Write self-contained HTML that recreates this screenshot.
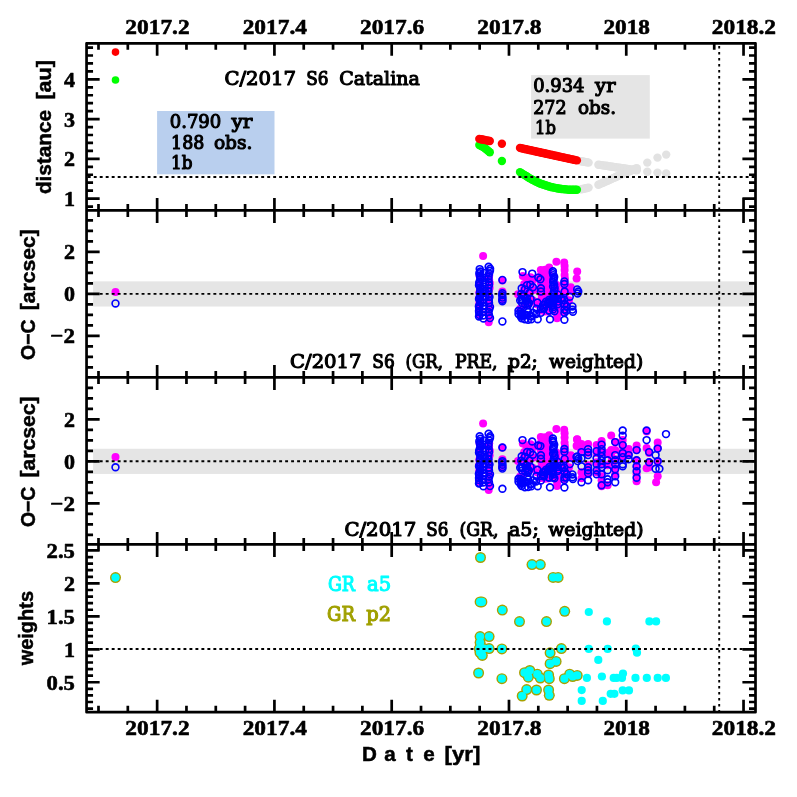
<!DOCTYPE html>
<html lang="en"><head><meta charset="utf-8"><title>C/2017 S6 Catalina</title>
<style>html,body{margin:0;padding:0;background:#fff;}svg{display:block;}.tk{font-family:"Liberation Serif",serif;font-weight:bold;font-size:22px;fill:#000;stroke:#000;stroke-width:0.6px;stroke-linejoin:round;}.ax{font-family:"Liberation Sans",sans-serif;font-weight:bold;font-size:20.6px;fill:#000;stroke:#000;stroke-width:0.5px;}.rm{font-family:"DejaVu Serif","Liberation Serif",serif;font-weight:normal;font-size:19.2px;fill:#000;stroke:#000;stroke-width:1.15px;stroke-linejoin:round;}</style></head><body>
<svg width="797" height="797" viewBox="0 0 797 797">
<rect x="0" y="0" width="797" height="797" fill="#ffffff"/>
<rect x="93.1" y="281.35" width="660.20" height="25.20" fill="#e5e5e5"/>
<rect x="93.1" y="448.75" width="660.20" height="25.20" fill="#e5e5e5"/>
<rect x="157.1" y="111.0" width="117.4" height="63.3" fill="#b9cfee"/>
<rect x="531.1" y="75.1" width="118.7" height="63.5" fill="#e5e5e5"/>
<g>
<circle cx="581.0" cy="161.3" r="4.2" fill="#e2e2e2"/>
<circle cx="582.5" cy="161.5" r="4.2" fill="#e2e2e2"/>
<circle cx="584.0" cy="161.8" r="4.2" fill="#e2e2e2"/>
<circle cx="585.6" cy="162.1" r="4.2" fill="#e2e2e2"/>
<circle cx="587.1" cy="162.3" r="4.2" fill="#e2e2e2"/>
<circle cx="588.6" cy="162.6" r="4.2" fill="#e2e2e2"/>
<circle cx="598.4" cy="164.7" r="4.2" fill="#e2e2e2"/>
<circle cx="599.9" cy="164.9" r="4.2" fill="#e2e2e2"/>
<circle cx="601.5" cy="165.1" r="4.2" fill="#e2e2e2"/>
<circle cx="603.0" cy="165.4" r="4.2" fill="#e2e2e2"/>
<circle cx="604.5" cy="165.6" r="4.2" fill="#e2e2e2"/>
<circle cx="606.1" cy="165.8" r="4.2" fill="#e2e2e2"/>
<circle cx="607.6" cy="166.0" r="4.2" fill="#e2e2e2"/>
<circle cx="609.2" cy="166.3" r="4.2" fill="#e2e2e2"/>
<circle cx="610.7" cy="166.5" r="4.2" fill="#e2e2e2"/>
<circle cx="612.2" cy="166.7" r="4.2" fill="#e2e2e2"/>
<circle cx="613.8" cy="166.9" r="4.2" fill="#e2e2e2"/>
<circle cx="615.3" cy="167.2" r="4.2" fill="#e2e2e2"/>
<circle cx="616.8" cy="167.4" r="4.2" fill="#e2e2e2"/>
<circle cx="618.4" cy="167.6" r="4.2" fill="#e2e2e2"/>
<circle cx="619.9" cy="167.8" r="4.2" fill="#e2e2e2"/>
<circle cx="621.4" cy="168.1" r="4.2" fill="#e2e2e2"/>
<circle cx="623.0" cy="168.3" r="4.2" fill="#e2e2e2"/>
<circle cx="624.5" cy="168.5" r="4.2" fill="#e2e2e2"/>
<circle cx="626.0" cy="168.7" r="4.2" fill="#e2e2e2"/>
<circle cx="627.6" cy="169.0" r="4.2" fill="#e2e2e2"/>
<circle cx="629.1" cy="169.2" r="4.2" fill="#e2e2e2"/>
<circle cx="630.7" cy="169.4" r="4.2" fill="#e2e2e2"/>
<circle cx="632.2" cy="169.6" r="4.2" fill="#e2e2e2"/>
<circle cx="633.7" cy="169.9" r="4.2" fill="#e2e2e2"/>
<circle cx="635.3" cy="170.1" r="4.2" fill="#e2e2e2"/>
<circle cx="636.8" cy="170.3" r="4.2" fill="#e2e2e2"/>
<circle cx="647.3" cy="171.7" r="4.2" fill="#e2e2e2"/>
<circle cx="657.5" cy="172.6" r="4.2" fill="#e2e2e2"/>
<circle cx="666.2" cy="173.5" r="4.2" fill="#e2e2e2"/>
<circle cx="581.0" cy="189.4" r="4.2" fill="#e2e2e2"/>
<circle cx="582.5" cy="189.0" r="4.2" fill="#e2e2e2"/>
<circle cx="584.0" cy="188.7" r="4.2" fill="#e2e2e2"/>
<circle cx="585.6" cy="188.3" r="4.2" fill="#e2e2e2"/>
<circle cx="587.1" cy="188.0" r="4.2" fill="#e2e2e2"/>
<circle cx="588.6" cy="187.6" r="4.2" fill="#e2e2e2"/>
<circle cx="598.4" cy="184.8" r="4.2" fill="#e2e2e2"/>
<circle cx="599.9" cy="184.1" r="4.2" fill="#e2e2e2"/>
<circle cx="601.5" cy="183.4" r="4.2" fill="#e2e2e2"/>
<circle cx="603.0" cy="182.7" r="4.2" fill="#e2e2e2"/>
<circle cx="604.5" cy="182.0" r="4.2" fill="#e2e2e2"/>
<circle cx="606.1" cy="181.3" r="4.2" fill="#e2e2e2"/>
<circle cx="607.6" cy="180.7" r="4.2" fill="#e2e2e2"/>
<circle cx="609.2" cy="180.0" r="4.2" fill="#e2e2e2"/>
<circle cx="610.7" cy="179.3" r="4.2" fill="#e2e2e2"/>
<circle cx="612.2" cy="178.6" r="4.2" fill="#e2e2e2"/>
<circle cx="613.8" cy="177.9" r="4.2" fill="#e2e2e2"/>
<circle cx="615.3" cy="177.2" r="4.2" fill="#e2e2e2"/>
<circle cx="616.8" cy="176.5" r="4.2" fill="#e2e2e2"/>
<circle cx="618.4" cy="175.8" r="4.2" fill="#e2e2e2"/>
<circle cx="619.9" cy="175.1" r="4.2" fill="#e2e2e2"/>
<circle cx="621.4" cy="174.5" r="4.2" fill="#e2e2e2"/>
<circle cx="623.0" cy="173.9" r="4.2" fill="#e2e2e2"/>
<circle cx="624.5" cy="173.2" r="4.2" fill="#e2e2e2"/>
<circle cx="626.0" cy="172.6" r="4.2" fill="#e2e2e2"/>
<circle cx="627.6" cy="172.0" r="4.2" fill="#e2e2e2"/>
<circle cx="629.1" cy="171.3" r="4.2" fill="#e2e2e2"/>
<circle cx="630.7" cy="170.7" r="4.2" fill="#e2e2e2"/>
<circle cx="632.2" cy="170.1" r="4.2" fill="#e2e2e2"/>
<circle cx="633.7" cy="169.5" r="4.2" fill="#e2e2e2"/>
<circle cx="635.3" cy="168.8" r="4.2" fill="#e2e2e2"/>
<circle cx="636.8" cy="168.2" r="4.2" fill="#e2e2e2"/>
<circle cx="647.3" cy="162.6" r="4.2" fill="#e2e2e2"/>
<circle cx="657.5" cy="157.6" r="4.2" fill="#e2e2e2"/>
<circle cx="666.2" cy="154.6" r="4.2" fill="#e2e2e2"/>
<circle cx="479.3" cy="145.1" r="4.2" fill="#00ff00"/>
<circle cx="480.8" cy="145.8" r="4.2" fill="#00ff00"/>
<circle cx="482.3" cy="146.6" r="4.2" fill="#00ff00"/>
<circle cx="483.8" cy="147.4" r="4.2" fill="#00ff00"/>
<circle cx="485.3" cy="148.5" r="4.2" fill="#00ff00"/>
<circle cx="486.8" cy="149.7" r="4.2" fill="#00ff00"/>
<circle cx="488.3" cy="151.0" r="4.2" fill="#00ff00"/>
<circle cx="489.8" cy="152.2" r="4.2" fill="#00ff00"/>
<circle cx="501.9" cy="161.0" r="4.2" fill="#00ff00"/>
<circle cx="520.0" cy="172.1" r="4.2" fill="#00ff00"/>
<circle cx="521.5" cy="173.1" r="4.2" fill="#00ff00"/>
<circle cx="523.1" cy="174.1" r="4.2" fill="#00ff00"/>
<circle cx="524.6" cy="175.1" r="4.2" fill="#00ff00"/>
<circle cx="526.2" cy="176.0" r="4.2" fill="#00ff00"/>
<circle cx="527.7" cy="177.0" r="4.2" fill="#00ff00"/>
<circle cx="529.2" cy="178.0" r="4.2" fill="#00ff00"/>
<circle cx="530.8" cy="178.9" r="4.2" fill="#00ff00"/>
<circle cx="532.3" cy="179.7" r="4.2" fill="#00ff00"/>
<circle cx="533.8" cy="180.4" r="4.2" fill="#00ff00"/>
<circle cx="535.4" cy="181.2" r="4.2" fill="#00ff00"/>
<circle cx="536.9" cy="182.0" r="4.2" fill="#00ff00"/>
<circle cx="538.5" cy="182.7" r="4.2" fill="#00ff00"/>
<circle cx="540.0" cy="183.5" r="4.2" fill="#00ff00"/>
<circle cx="541.5" cy="184.0" r="4.2" fill="#00ff00"/>
<circle cx="543.1" cy="184.5" r="4.2" fill="#00ff00"/>
<circle cx="544.6" cy="185.0" r="4.2" fill="#00ff00"/>
<circle cx="546.1" cy="185.5" r="4.2" fill="#00ff00"/>
<circle cx="547.7" cy="186.0" r="4.2" fill="#00ff00"/>
<circle cx="549.2" cy="186.5" r="4.2" fill="#00ff00"/>
<circle cx="550.8" cy="187.0" r="4.2" fill="#00ff00"/>
<circle cx="552.3" cy="187.3" r="4.2" fill="#00ff00"/>
<circle cx="553.8" cy="187.6" r="4.2" fill="#00ff00"/>
<circle cx="555.4" cy="187.9" r="4.2" fill="#00ff00"/>
<circle cx="556.9" cy="188.2" r="4.2" fill="#00ff00"/>
<circle cx="558.4" cy="188.5" r="4.2" fill="#00ff00"/>
<circle cx="560.0" cy="188.8" r="4.2" fill="#00ff00"/>
<circle cx="561.5" cy="189.0" r="4.2" fill="#00ff00"/>
<circle cx="563.1" cy="189.1" r="4.2" fill="#00ff00"/>
<circle cx="564.6" cy="189.3" r="4.2" fill="#00ff00"/>
<circle cx="566.1" cy="189.4" r="4.2" fill="#00ff00"/>
<circle cx="567.7" cy="189.6" r="4.2" fill="#00ff00"/>
<circle cx="569.2" cy="189.7" r="4.2" fill="#00ff00"/>
<circle cx="570.7" cy="189.8" r="4.2" fill="#00ff00"/>
<circle cx="572.3" cy="189.8" r="4.2" fill="#00ff00"/>
<circle cx="573.8" cy="189.8" r="4.2" fill="#00ff00"/>
<circle cx="575.4" cy="189.8" r="4.2" fill="#00ff00"/>
<circle cx="576.9" cy="189.8" r="4.2" fill="#00ff00"/>
<circle cx="479.3" cy="138.9" r="4.2" fill="#ff0000"/>
<circle cx="480.8" cy="139.2" r="4.2" fill="#ff0000"/>
<circle cx="482.3" cy="139.5" r="4.2" fill="#ff0000"/>
<circle cx="483.8" cy="139.8" r="4.2" fill="#ff0000"/>
<circle cx="485.3" cy="140.1" r="4.2" fill="#ff0000"/>
<circle cx="486.8" cy="140.4" r="4.2" fill="#ff0000"/>
<circle cx="488.3" cy="140.7" r="4.2" fill="#ff0000"/>
<circle cx="489.8" cy="141.0" r="4.2" fill="#ff0000"/>
<circle cx="501.9" cy="143.8" r="4.2" fill="#ff0000"/>
<circle cx="520.0" cy="147.9" r="4.2" fill="#ff0000"/>
<circle cx="521.5" cy="148.3" r="4.2" fill="#ff0000"/>
<circle cx="523.1" cy="148.6" r="4.2" fill="#ff0000"/>
<circle cx="524.6" cy="149.0" r="4.2" fill="#ff0000"/>
<circle cx="526.2" cy="149.3" r="4.2" fill="#ff0000"/>
<circle cx="527.7" cy="149.6" r="4.2" fill="#ff0000"/>
<circle cx="529.2" cy="150.0" r="4.2" fill="#ff0000"/>
<circle cx="530.8" cy="150.3" r="4.2" fill="#ff0000"/>
<circle cx="532.3" cy="150.6" r="4.2" fill="#ff0000"/>
<circle cx="533.8" cy="151.0" r="4.2" fill="#ff0000"/>
<circle cx="535.4" cy="151.3" r="4.2" fill="#ff0000"/>
<circle cx="536.9" cy="151.7" r="4.2" fill="#ff0000"/>
<circle cx="538.5" cy="152.0" r="4.2" fill="#ff0000"/>
<circle cx="540.0" cy="152.3" r="4.2" fill="#ff0000"/>
<circle cx="541.5" cy="152.7" r="4.2" fill="#ff0000"/>
<circle cx="543.1" cy="153.0" r="4.2" fill="#ff0000"/>
<circle cx="544.6" cy="153.3" r="4.2" fill="#ff0000"/>
<circle cx="546.1" cy="153.7" r="4.2" fill="#ff0000"/>
<circle cx="547.7" cy="154.0" r="4.2" fill="#ff0000"/>
<circle cx="549.2" cy="154.4" r="4.2" fill="#ff0000"/>
<circle cx="550.8" cy="154.7" r="4.2" fill="#ff0000"/>
<circle cx="552.3" cy="155.0" r="4.2" fill="#ff0000"/>
<circle cx="553.8" cy="155.4" r="4.2" fill="#ff0000"/>
<circle cx="555.4" cy="155.7" r="4.2" fill="#ff0000"/>
<circle cx="556.9" cy="156.0" r="4.2" fill="#ff0000"/>
<circle cx="558.4" cy="156.4" r="4.2" fill="#ff0000"/>
<circle cx="560.0" cy="156.7" r="4.2" fill="#ff0000"/>
<circle cx="561.5" cy="157.1" r="4.2" fill="#ff0000"/>
<circle cx="563.1" cy="157.4" r="4.2" fill="#ff0000"/>
<circle cx="564.6" cy="157.7" r="4.2" fill="#ff0000"/>
<circle cx="566.1" cy="158.1" r="4.2" fill="#ff0000"/>
<circle cx="567.7" cy="158.4" r="4.2" fill="#ff0000"/>
<circle cx="569.2" cy="158.8" r="4.2" fill="#ff0000"/>
<circle cx="570.7" cy="159.1" r="4.2" fill="#ff0000"/>
<circle cx="572.3" cy="159.4" r="4.2" fill="#ff0000"/>
<circle cx="573.8" cy="159.8" r="4.2" fill="#ff0000"/>
<circle cx="575.4" cy="160.1" r="4.2" fill="#ff0000"/>
<circle cx="576.9" cy="160.4" r="4.2" fill="#ff0000"/>
<circle cx="115.5" cy="80.0" r="3.8" fill="#00ff00"/>
<circle cx="115.5" cy="52.1" r="3.8" fill="#ff0000"/>
</g>
<g fill="#ff00ff">
<circle cx="483.1" cy="255.9" r="4.0"/>
<circle cx="479.6" cy="275.7" r="4.0"/>
<circle cx="480.0" cy="281.1" r="4.0"/>
<circle cx="479.8" cy="287.0" r="4.0"/>
<circle cx="479.3" cy="292.7" r="4.0"/>
<circle cx="479.2" cy="298.2" r="4.0"/>
<circle cx="479.3" cy="303.4" r="4.0"/>
<circle cx="479.7" cy="309.8" r="4.0"/>
<circle cx="479.3" cy="314.7" r="4.0"/>
<circle cx="489.2" cy="275.4" r="4.0"/>
<circle cx="489.1" cy="279.2" r="4.0"/>
<circle cx="489.8" cy="283.1" r="4.0"/>
<circle cx="489.6" cy="287.7" r="4.0"/>
<circle cx="488.4" cy="291.8" r="4.0"/>
<circle cx="488.7" cy="296.8" r="4.0"/>
<circle cx="488.5" cy="300.8" r="4.0"/>
<circle cx="489.2" cy="304.9" r="4.0"/>
<circle cx="489.1" cy="308.9" r="4.0"/>
<circle cx="488.3" cy="313.3" r="4.0"/>
<circle cx="489.3" cy="317.8" r="4.0"/>
<circle cx="488.7" cy="322.3" r="4.0"/>
<circle cx="502.4" cy="280.6" r="4.0"/>
<circle cx="502.4" cy="291.5" r="4.0"/>
<circle cx="502.4" cy="299.5" r="4.0"/>
<circle cx="518.0" cy="294.2" r="4.0"/>
<circle cx="556.4" cy="261.8" r="4.0"/>
<circle cx="577.2" cy="271.5" r="4.0"/>
<circle cx="576.6" cy="278.6" r="4.0"/>
<circle cx="557.0" cy="318.3" r="4.0"/>
<circle cx="570.8" cy="287.2" r="4.0"/>
<circle cx="570.8" cy="290.4" r="4.0"/>
<circle cx="564.2" cy="262.4" r="4.0"/>
<circle cx="564.6" cy="265.9" r="4.0"/>
<circle cx="564.6" cy="270.0" r="4.0"/>
<circle cx="564.6" cy="274.9" r="4.0"/>
<circle cx="564.9" cy="278.8" r="4.0"/>
<circle cx="564.4" cy="282.7" r="4.0"/>
<circle cx="564.3" cy="287.2" r="4.0"/>
<circle cx="564.6" cy="291.4" r="4.0"/>
<circle cx="564.5" cy="295.1" r="4.0"/>
<circle cx="564.8" cy="299.9" r="4.0"/>
<circle cx="564.9" cy="303.9" r="4.0"/>
<circle cx="564.9" cy="308.0" r="4.0"/>
<circle cx="564.4" cy="312.0" r="4.0"/>
<circle cx="540.8" cy="270.1" r="4.0"/>
<circle cx="540.4" cy="276.2" r="4.0"/>
<circle cx="540.7" cy="282.4" r="4.0"/>
<circle cx="541.5" cy="287.9" r="4.0"/>
<circle cx="541.5" cy="294.3" r="4.0"/>
<circle cx="541.5" cy="299.3" r="4.0"/>
<circle cx="540.7" cy="304.9" r="4.0"/>
<circle cx="540.6" cy="310.6" r="4.0"/>
<circle cx="545.1" cy="269.8" r="4.0"/>
<circle cx="545.4" cy="275.2" r="4.0"/>
<circle cx="545.2" cy="281.6" r="4.0"/>
<circle cx="544.5" cy="287.4" r="4.0"/>
<circle cx="545.5" cy="293.5" r="4.0"/>
<circle cx="545.3" cy="299.1" r="4.0"/>
<circle cx="544.6" cy="305.4" r="4.0"/>
<circle cx="544.8" cy="311.4" r="4.0"/>
<circle cx="549.2" cy="267.4" r="4.0"/>
<circle cx="548.5" cy="273.6" r="4.0"/>
<circle cx="548.9" cy="278.2" r="4.0"/>
<circle cx="548.2" cy="283.8" r="4.0"/>
<circle cx="549.1" cy="290.1" r="4.0"/>
<circle cx="548.2" cy="295.7" r="4.0"/>
<circle cx="549.2" cy="301.1" r="4.0"/>
<circle cx="548.4" cy="306.5" r="4.0"/>
<circle cx="548.2" cy="311.4" r="4.0"/>
<circle cx="522.8" cy="276.0" r="4.0"/>
<circle cx="526.2" cy="277.6" r="4.0"/>
<circle cx="530.5" cy="277.2" r="4.0"/>
<circle cx="533.5" cy="279.0" r="4.0"/>
<circle cx="533.6" cy="290.0" r="4.0"/>
<circle cx="527.8" cy="294.9" r="4.0"/>
<circle cx="526.6" cy="293.8" r="4.0"/>
<circle cx="531.7" cy="282.6" r="4.0"/>
<circle cx="524.3" cy="284.0" r="4.0"/>
<circle cx="524.1" cy="289.0" r="4.0"/>
<circle cx="524.4" cy="286.1" r="4.0"/>
<circle cx="522.7" cy="294.5" r="4.0"/>
<circle cx="525.6" cy="286.8" r="4.0"/>
<circle cx="528.6" cy="294.4" r="4.0"/>
<circle cx="526.5" cy="294.6" r="4.0"/>
<circle cx="527.5" cy="288.0" r="4.0"/>
<circle cx="547.2" cy="296.3" r="4.0"/>
<circle cx="542.9" cy="298.9" r="4.0"/>
<circle cx="520.2" cy="308.8" r="4.0"/>
<circle cx="529.0" cy="303.6" r="4.0"/>
<circle cx="557.7" cy="304.9" r="4.0"/>
<circle cx="537.0" cy="304.3" r="4.0"/>
<circle cx="548.9" cy="308.5" r="4.0"/>
<circle cx="525.5" cy="305.0" r="4.0"/>
<circle cx="532.9" cy="300.4" r="4.0"/>
<circle cx="560.2" cy="304.1" r="4.0"/>
<circle cx="549.2" cy="308.2" r="4.0"/>
<circle cx="567.4" cy="303.1" r="4.0"/>
<circle cx="551.9" cy="304.1" r="4.0"/>
<circle cx="546.6" cy="307.1" r="4.0"/>
<circle cx="543.5" cy="304.5" r="4.0"/>
<circle cx="544.9" cy="311.1" r="4.0"/>
<circle cx="556.4" cy="310.0" r="4.0"/>
<circle cx="569.0" cy="300.2" r="4.0"/>
<circle cx="549.1" cy="311.1" r="4.0"/>
<circle cx="563.7" cy="298.2" r="4.0"/>
<circle cx="556.5" cy="284.9" r="4.0"/>
<circle cx="556.5" cy="290.7" r="4.0"/>
<circle cx="556.5" cy="297.2" r="4.0"/>
<circle cx="557.3" cy="303.4" r="4.0"/>
<circle cx="556.6" cy="309.2" r="4.0"/>
<circle cx="557.2" cy="314.6" r="4.0"/>
<circle cx="115.5" cy="292.0" r="4.0"/>
</g><g fill="none" stroke="#0000ff" stroke-width="1.65">
<circle cx="479.7" cy="269.1" r="3.4"/>
<circle cx="480.3" cy="271.5" r="3.4"/>
<circle cx="479.3" cy="273.3" r="3.4"/>
<circle cx="479.8" cy="275.6" r="3.4"/>
<circle cx="480.2" cy="277.0" r="3.4"/>
<circle cx="480.7" cy="278.8" r="3.4"/>
<circle cx="479.7" cy="281.4" r="3.4"/>
<circle cx="479.2" cy="283.1" r="3.4"/>
<circle cx="479.0" cy="285.2" r="3.4"/>
<circle cx="480.3" cy="287.1" r="3.4"/>
<circle cx="480.5" cy="288.8" r="3.4"/>
<circle cx="480.2" cy="291.0" r="3.4"/>
<circle cx="479.9" cy="292.9" r="3.4"/>
<circle cx="480.4" cy="295.3" r="3.4"/>
<circle cx="479.8" cy="297.0" r="3.4"/>
<circle cx="479.0" cy="299.0" r="3.4"/>
<circle cx="480.1" cy="301.3" r="3.4"/>
<circle cx="480.4" cy="302.5" r="3.4"/>
<circle cx="479.6" cy="304.9" r="3.4"/>
<circle cx="478.9" cy="306.6" r="3.4"/>
<circle cx="479.2" cy="308.3" r="3.4"/>
<circle cx="479.0" cy="310.9" r="3.4"/>
<circle cx="479.1" cy="312.3" r="3.4"/>
<circle cx="479.6" cy="314.9" r="3.4"/>
<circle cx="479.0" cy="316.4" r="3.4"/>
<circle cx="483.3" cy="296.4" r="3.4"/>
<circle cx="483.6" cy="299.6" r="3.4"/>
<circle cx="483.1" cy="302.4" r="3.4"/>
<circle cx="483.2" cy="306.1" r="3.4"/>
<circle cx="483.8" cy="308.6" r="3.4"/>
<circle cx="483.0" cy="311.9" r="3.4"/>
<circle cx="483.0" cy="315.4" r="3.4"/>
<circle cx="483.4" cy="318.4" r="3.4"/>
<circle cx="483.8" cy="272.9" r="3.4"/>
<circle cx="484.4" cy="277.7" r="3.4"/>
<circle cx="485.3" cy="282.4" r="3.4"/>
<circle cx="484.6" cy="286.9" r="3.4"/>
<circle cx="484.9" cy="291.0" r="3.4"/>
<circle cx="485.2" cy="296.3" r="3.4"/>
<circle cx="490.0" cy="270.8" r="3.4"/>
<circle cx="489.1" cy="273.4" r="3.4"/>
<circle cx="488.5" cy="276.6" r="3.4"/>
<circle cx="488.4" cy="279.0" r="3.4"/>
<circle cx="488.7" cy="282.1" r="3.4"/>
<circle cx="489.0" cy="285.0" r="3.4"/>
<circle cx="488.3" cy="288.1" r="3.4"/>
<circle cx="488.5" cy="291.3" r="3.4"/>
<circle cx="488.4" cy="294.8" r="3.4"/>
<circle cx="489.5" cy="297.1" r="3.4"/>
<circle cx="488.8" cy="300.3" r="3.4"/>
<circle cx="489.0" cy="303.1" r="3.4"/>
<circle cx="490.0" cy="306.9" r="3.4"/>
<circle cx="489.2" cy="309.4" r="3.4"/>
<circle cx="488.5" cy="312.0" r="3.4"/>
<circle cx="489.0" cy="315.2" r="3.4"/>
<circle cx="490.0" cy="318.1" r="3.4"/>
<circle cx="488.6" cy="266.8" r="3.4"/>
<circle cx="490.1" cy="268.8" r="3.4"/>
<circle cx="502.4" cy="279.9" r="3.4"/>
<circle cx="502.4" cy="293.2" r="3.4"/>
<circle cx="502.2" cy="295.3" r="3.4"/>
<circle cx="502.5" cy="297.6" r="3.4"/>
<circle cx="502.3" cy="299.8" r="3.4"/>
<circle cx="502.4" cy="301.3" r="3.4"/>
<circle cx="502.4" cy="321.4" r="3.4"/>
<circle cx="522.5" cy="272.1" r="3.4"/>
<circle cx="532.2" cy="273.6" r="3.4"/>
<circle cx="538.3" cy="277.6" r="3.4"/>
<circle cx="540.4" cy="279.2" r="3.4"/>
<circle cx="527.1" cy="285.1" r="3.4"/>
<circle cx="530.3" cy="284.6" r="3.4"/>
<circle cx="521.7" cy="288.3" r="3.4"/>
<circle cx="524.9" cy="289.4" r="3.4"/>
<circle cx="532.9" cy="287.2" r="3.4"/>
<circle cx="540.9" cy="288.3" r="3.4"/>
<circle cx="540.9" cy="291.5" r="3.4"/>
<circle cx="518.5" cy="310.7" r="3.4"/>
<circle cx="518.5" cy="313.9" r="3.4"/>
<circle cx="521.7" cy="318.2" r="3.4"/>
<circle cx="524.9" cy="319.2" r="3.4"/>
<circle cx="528.1" cy="319.8" r="3.4"/>
<circle cx="531.3" cy="319.2" r="3.4"/>
<circle cx="537.7" cy="319.2" r="3.4"/>
<circle cx="536.1" cy="313.9" r="3.4"/>
<circle cx="540.9" cy="312.8" r="3.4"/>
<circle cx="550.0" cy="319.2" r="3.4"/>
<circle cx="564.4" cy="319.8" r="3.4"/>
<circle cx="564.4" cy="281.4" r="3.4"/>
<circle cx="564.4" cy="284.0" r="3.4"/>
<circle cx="564.6" cy="291.5" r="3.4"/>
<circle cx="564.3" cy="300.0" r="3.4"/>
<circle cx="564.5" cy="304.3" r="3.4"/>
<circle cx="564.4" cy="309.6" r="3.4"/>
<circle cx="564.4" cy="312.8" r="3.4"/>
<circle cx="572.4" cy="306.4" r="3.4"/>
<circle cx="572.4" cy="309.6" r="3.4"/>
<circle cx="572.9" cy="311.8" r="3.4"/>
<circle cx="577.2" cy="289.4" r="3.4"/>
<circle cx="578.3" cy="291.5" r="3.4"/>
<circle cx="577.6" cy="293.5" r="3.4"/>
<circle cx="531.5" cy="316.2" r="3.4"/>
<circle cx="522.9" cy="315.8" r="3.4"/>
<circle cx="525.2" cy="304.4" r="3.4"/>
<circle cx="532.9" cy="312.9" r="3.4"/>
<circle cx="522.1" cy="303.1" r="3.4"/>
<circle cx="526.7" cy="300.8" r="3.4"/>
<circle cx="522.5" cy="300.3" r="3.4"/>
<circle cx="529.4" cy="293.0" r="3.4"/>
<circle cx="527.2" cy="303.3" r="3.4"/>
<circle cx="520.2" cy="300.6" r="3.4"/>
<circle cx="528.1" cy="305.1" r="3.4"/>
<circle cx="520.8" cy="316.6" r="3.4"/>
<circle cx="530.2" cy="316.3" r="3.4"/>
<circle cx="521.4" cy="299.0" r="3.4"/>
<circle cx="520.5" cy="311.6" r="3.4"/>
<circle cx="523.5" cy="295.7" r="3.4"/>
<circle cx="525.5" cy="314.8" r="3.4"/>
<circle cx="530.6" cy="298.8" r="3.4"/>
<circle cx="521.9" cy="315.0" r="3.4"/>
<circle cx="527.4" cy="309.7" r="3.4"/>
<circle cx="521.2" cy="293.9" r="3.4"/>
<circle cx="528.9" cy="302.9" r="3.4"/>
<circle cx="520.9" cy="315.5" r="3.4"/>
<circle cx="528.2" cy="312.1" r="3.4"/>
<circle cx="521.1" cy="313.5" r="3.4"/>
<circle cx="520.9" cy="313.6" r="3.4"/>
<circle cx="525.9" cy="300.8" r="3.4"/>
<circle cx="527.2" cy="315.2" r="3.4"/>
<circle cx="523.5" cy="295.7" r="3.4"/>
<circle cx="526.8" cy="298.3" r="3.4"/>
<circle cx="552.9" cy="271.2" r="3.4"/>
<circle cx="552.8" cy="273.1" r="3.4"/>
<circle cx="553.3" cy="275.1" r="3.4"/>
<circle cx="554.2" cy="276.9" r="3.4"/>
<circle cx="553.7" cy="278.7" r="3.4"/>
<circle cx="553.4" cy="280.4" r="3.4"/>
<circle cx="553.2" cy="282.3" r="3.4"/>
<circle cx="554.2" cy="284.7" r="3.4"/>
<circle cx="553.1" cy="286.5" r="3.4"/>
<circle cx="554.6" cy="288.0" r="3.4"/>
<circle cx="554.3" cy="290.2" r="3.4"/>
<circle cx="553.7" cy="292.5" r="3.4"/>
<circle cx="553.5" cy="294.1" r="3.4"/>
<circle cx="554.1" cy="296.4" r="3.4"/>
<circle cx="553.4" cy="298.2" r="3.4"/>
<circle cx="554.1" cy="299.9" r="3.4"/>
<circle cx="553.5" cy="301.4" r="3.4"/>
<circle cx="552.8" cy="303.1" r="3.4"/>
<circle cx="552.8" cy="305.6" r="3.4"/>
<circle cx="553.2" cy="306.9" r="3.4"/>
<circle cx="552.9" cy="309.5" r="3.4"/>
<circle cx="554.4" cy="311.2" r="3.4"/>
<circle cx="549.4" cy="299.6" r="3.4"/>
<circle cx="549.5" cy="302.9" r="3.4"/>
<circle cx="547.9" cy="302.7" r="3.4"/>
<circle cx="549.2" cy="310.4" r="3.4"/>
<circle cx="557.7" cy="304.2" r="3.4"/>
<circle cx="548.9" cy="310.5" r="3.4"/>
<circle cx="549.7" cy="301.3" r="3.4"/>
<circle cx="546.0" cy="301.7" r="3.4"/>
<circle cx="551.7" cy="303.5" r="3.4"/>
<circle cx="548.4" cy="303.6" r="3.4"/>
<circle cx="557.1" cy="299.0" r="3.4"/>
<circle cx="558.2" cy="301.6" r="3.4"/>
<circle cx="557.5" cy="294.4" r="3.4"/>
<circle cx="561.0" cy="298.4" r="3.4"/>
<circle cx="564.6" cy="304.1" r="3.4"/>
<circle cx="566.8" cy="306.5" r="3.4"/>
<circle cx="566.3" cy="310.7" r="3.4"/>
<circle cx="562.1" cy="300.2" r="3.4"/>
<circle cx="569.8" cy="296.8" r="3.4"/>
<circle cx="543.2" cy="304.9" r="3.4"/>
<circle cx="536.4" cy="308.7" r="3.4"/>
<circle cx="544.9" cy="304.5" r="3.4"/>
<circle cx="543.3" cy="308.2" r="3.4"/>
<circle cx="537.4" cy="302.5" r="3.4"/>
<circle cx="541.0" cy="308.7" r="3.4"/>
<circle cx="544.0" cy="308.5" r="3.4"/>
<circle cx="115.5" cy="303.4" r="3.4"/>
</g>
<g fill="#ff00ff">
<circle cx="483.1" cy="423.5" r="4.0"/>
<circle cx="479.6" cy="443.6" r="4.0"/>
<circle cx="480.0" cy="448.8" r="4.0"/>
<circle cx="479.8" cy="454.7" r="4.0"/>
<circle cx="479.3" cy="459.8" r="4.0"/>
<circle cx="479.2" cy="465.1" r="4.0"/>
<circle cx="479.3" cy="470.5" r="4.0"/>
<circle cx="479.7" cy="477.0" r="4.0"/>
<circle cx="479.3" cy="481.7" r="4.0"/>
<circle cx="489.2" cy="443.3" r="4.0"/>
<circle cx="489.1" cy="446.7" r="4.0"/>
<circle cx="489.8" cy="450.7" r="4.0"/>
<circle cx="489.6" cy="455.3" r="4.0"/>
<circle cx="488.4" cy="459.4" r="4.0"/>
<circle cx="488.7" cy="464.2" r="4.0"/>
<circle cx="488.5" cy="467.7" r="4.0"/>
<circle cx="489.2" cy="472.7" r="4.0"/>
<circle cx="489.1" cy="476.6" r="4.0"/>
<circle cx="488.3" cy="480.8" r="4.0"/>
<circle cx="489.3" cy="485.3" r="4.0"/>
<circle cx="488.7" cy="489.9" r="4.0"/>
<circle cx="502.4" cy="447.5" r="4.0"/>
<circle cx="502.4" cy="459.2" r="4.0"/>
<circle cx="502.4" cy="466.7" r="4.0"/>
<circle cx="518.0" cy="461.1" r="4.0"/>
<circle cx="556.4" cy="429.0" r="4.0"/>
<circle cx="577.2" cy="439.2" r="4.0"/>
<circle cx="576.6" cy="445.7" r="4.0"/>
<circle cx="557.0" cy="486.0" r="4.0"/>
<circle cx="570.8" cy="455.2" r="4.0"/>
<circle cx="570.8" cy="457.8" r="4.0"/>
<circle cx="564.2" cy="429.7" r="4.0"/>
<circle cx="564.6" cy="433.3" r="4.0"/>
<circle cx="564.6" cy="437.6" r="4.0"/>
<circle cx="564.6" cy="442.7" r="4.0"/>
<circle cx="564.9" cy="446.4" r="4.0"/>
<circle cx="564.4" cy="450.3" r="4.0"/>
<circle cx="564.3" cy="454.2" r="4.0"/>
<circle cx="564.6" cy="458.4" r="4.0"/>
<circle cx="564.5" cy="462.3" r="4.0"/>
<circle cx="564.8" cy="467.6" r="4.0"/>
<circle cx="564.9" cy="471.1" r="4.0"/>
<circle cx="564.9" cy="475.6" r="4.0"/>
<circle cx="564.4" cy="478.9" r="4.0"/>
<circle cx="540.8" cy="437.1" r="4.0"/>
<circle cx="540.4" cy="443.4" r="4.0"/>
<circle cx="540.7" cy="450.1" r="4.0"/>
<circle cx="541.5" cy="455.6" r="4.0"/>
<circle cx="541.5" cy="462.0" r="4.0"/>
<circle cx="541.5" cy="466.5" r="4.0"/>
<circle cx="540.7" cy="472.4" r="4.0"/>
<circle cx="540.6" cy="478.1" r="4.0"/>
<circle cx="545.1" cy="437.2" r="4.0"/>
<circle cx="545.4" cy="442.2" r="4.0"/>
<circle cx="545.2" cy="449.5" r="4.0"/>
<circle cx="544.5" cy="454.5" r="4.0"/>
<circle cx="545.5" cy="461.5" r="4.0"/>
<circle cx="545.3" cy="467.0" r="4.0"/>
<circle cx="544.6" cy="472.3" r="4.0"/>
<circle cx="544.8" cy="478.8" r="4.0"/>
<circle cx="549.2" cy="435.2" r="4.0"/>
<circle cx="548.5" cy="441.6" r="4.0"/>
<circle cx="548.9" cy="445.6" r="4.0"/>
<circle cx="548.2" cy="450.9" r="4.0"/>
<circle cx="549.1" cy="457.2" r="4.0"/>
<circle cx="548.2" cy="463.7" r="4.0"/>
<circle cx="549.2" cy="468.2" r="4.0"/>
<circle cx="548.4" cy="474.0" r="4.0"/>
<circle cx="548.2" cy="478.4" r="4.0"/>
<circle cx="522.8" cy="443.5" r="4.0"/>
<circle cx="526.2" cy="445.6" r="4.0"/>
<circle cx="530.5" cy="444.2" r="4.0"/>
<circle cx="533.5" cy="446.8" r="4.0"/>
<circle cx="533.6" cy="457.5" r="4.0"/>
<circle cx="527.8" cy="462.8" r="4.0"/>
<circle cx="526.6" cy="461.5" r="4.0"/>
<circle cx="531.7" cy="449.7" r="4.0"/>
<circle cx="524.3" cy="451.9" r="4.0"/>
<circle cx="524.1" cy="456.4" r="4.0"/>
<circle cx="524.4" cy="453.0" r="4.0"/>
<circle cx="522.7" cy="461.3" r="4.0"/>
<circle cx="525.6" cy="454.2" r="4.0"/>
<circle cx="528.6" cy="461.8" r="4.0"/>
<circle cx="526.5" cy="461.8" r="4.0"/>
<circle cx="527.5" cy="455.1" r="4.0"/>
<circle cx="547.2" cy="463.6" r="4.0"/>
<circle cx="542.9" cy="466.2" r="4.0"/>
<circle cx="520.2" cy="476.6" r="4.0"/>
<circle cx="529.0" cy="470.4" r="4.0"/>
<circle cx="557.7" cy="472.7" r="4.0"/>
<circle cx="537.0" cy="472.2" r="4.0"/>
<circle cx="548.9" cy="475.5" r="4.0"/>
<circle cx="525.5" cy="472.9" r="4.0"/>
<circle cx="532.9" cy="468.1" r="4.0"/>
<circle cx="560.2" cy="472.1" r="4.0"/>
<circle cx="549.2" cy="475.4" r="4.0"/>
<circle cx="567.4" cy="470.4" r="4.0"/>
<circle cx="551.9" cy="471.4" r="4.0"/>
<circle cx="546.6" cy="475.1" r="4.0"/>
<circle cx="543.5" cy="472.1" r="4.0"/>
<circle cx="544.9" cy="478.3" r="4.0"/>
<circle cx="556.4" cy="477.4" r="4.0"/>
<circle cx="569.0" cy="467.3" r="4.0"/>
<circle cx="549.1" cy="478.0" r="4.0"/>
<circle cx="563.7" cy="465.2" r="4.0"/>
<circle cx="556.5" cy="452.8" r="4.0"/>
<circle cx="556.5" cy="457.9" r="4.0"/>
<circle cx="556.5" cy="465.1" r="4.0"/>
<circle cx="557.3" cy="470.5" r="4.0"/>
<circle cx="556.6" cy="476.4" r="4.0"/>
<circle cx="557.2" cy="482.1" r="4.0"/>
<circle cx="577.0" cy="439.6" r="4.0"/>
<circle cx="577.0" cy="446.1" r="4.0"/>
<circle cx="581.5" cy="444.1" r="4.0"/>
<circle cx="581.5" cy="450.1" r="4.0"/>
<circle cx="581.5" cy="472.2" r="4.0"/>
<circle cx="581.5" cy="478.2" r="4.0"/>
<circle cx="588.1" cy="444.1" r="4.0"/>
<circle cx="588.1" cy="453.1" r="4.0"/>
<circle cx="588.1" cy="465.2" r="4.0"/>
<circle cx="588.1" cy="474.2" r="4.0"/>
<circle cx="596.6" cy="445.1" r="4.0"/>
<circle cx="596.6" cy="453.1" r="4.0"/>
<circle cx="596.6" cy="462.2" r="4.0"/>
<circle cx="596.6" cy="472.2" r="4.0"/>
<circle cx="601.6" cy="441.1" r="4.0"/>
<circle cx="601.6" cy="445.1" r="4.0"/>
<circle cx="601.6" cy="453.1" r="4.0"/>
<circle cx="601.6" cy="464.2" r="4.0"/>
<circle cx="601.6" cy="476.2" r="4.0"/>
<circle cx="601.6" cy="480.2" r="4.0"/>
<circle cx="601.6" cy="486.3" r="4.0"/>
<circle cx="607.6" cy="453.1" r="4.0"/>
<circle cx="607.6" cy="465.2" r="4.0"/>
<circle cx="607.6" cy="485.3" r="4.0"/>
<circle cx="611.2" cy="435.6" r="4.0"/>
<circle cx="611.2" cy="450.1" r="4.0"/>
<circle cx="611.2" cy="456.1" r="4.0"/>
<circle cx="611.2" cy="462.2" r="4.0"/>
<circle cx="615.2" cy="442.1" r="4.0"/>
<circle cx="615.2" cy="450.1" r="4.0"/>
<circle cx="615.2" cy="459.2" r="4.0"/>
<circle cx="615.2" cy="468.2" r="4.0"/>
<circle cx="615.2" cy="474.2" r="4.0"/>
<circle cx="622.7" cy="440.1" r="4.0"/>
<circle cx="622.7" cy="446.1" r="4.0"/>
<circle cx="622.7" cy="452.1" r="4.0"/>
<circle cx="622.7" cy="458.2" r="4.0"/>
<circle cx="628.7" cy="449.1" r="4.0"/>
<circle cx="628.7" cy="454.1" r="4.0"/>
<circle cx="636.6" cy="445.6" r="4.0"/>
<circle cx="636.6" cy="450.1" r="4.0"/>
<circle cx="636.6" cy="460.2" r="4.0"/>
<circle cx="636.6" cy="467.2" r="4.0"/>
<circle cx="636.6" cy="474.2" r="4.0"/>
<circle cx="636.6" cy="481.2" r="4.0"/>
<circle cx="646.6" cy="431.5" r="4.0"/>
<circle cx="646.6" cy="448.1" r="4.0"/>
<circle cx="646.6" cy="468.2" r="4.0"/>
<circle cx="649.1" cy="453.1" r="4.0"/>
<circle cx="649.1" cy="462.2" r="4.0"/>
<circle cx="649.1" cy="467.2" r="4.0"/>
<circle cx="657.7" cy="442.6" r="4.0"/>
<circle cx="657.7" cy="448.1" r="4.0"/>
<circle cx="657.7" cy="461.2" r="4.0"/>
<circle cx="657.7" cy="476.2" r="4.0"/>
<circle cx="656.1" cy="482.2" r="4.0"/>
<circle cx="115.5" cy="457.0" r="4.0"/>
</g><g fill="none" stroke="#0000ff" stroke-width="1.65">
<circle cx="479.7" cy="436.2" r="3.4"/>
<circle cx="480.3" cy="438.8" r="3.4"/>
<circle cx="479.3" cy="441.3" r="3.4"/>
<circle cx="479.8" cy="443.5" r="3.4"/>
<circle cx="480.2" cy="444.8" r="3.4"/>
<circle cx="480.7" cy="446.4" r="3.4"/>
<circle cx="479.7" cy="449.3" r="3.4"/>
<circle cx="479.2" cy="451.0" r="3.4"/>
<circle cx="479.0" cy="452.7" r="3.4"/>
<circle cx="480.3" cy="454.8" r="3.4"/>
<circle cx="480.5" cy="455.7" r="3.4"/>
<circle cx="480.2" cy="458.8" r="3.4"/>
<circle cx="479.9" cy="460.2" r="3.4"/>
<circle cx="480.4" cy="463.1" r="3.4"/>
<circle cx="479.8" cy="464.6" r="3.4"/>
<circle cx="479.0" cy="466.2" r="3.4"/>
<circle cx="480.1" cy="468.2" r="3.4"/>
<circle cx="480.4" cy="470.5" r="3.4"/>
<circle cx="479.6" cy="471.9" r="3.4"/>
<circle cx="478.9" cy="474.0" r="3.4"/>
<circle cx="479.2" cy="475.5" r="3.4"/>
<circle cx="479.0" cy="478.1" r="3.4"/>
<circle cx="479.1" cy="480.1" r="3.4"/>
<circle cx="479.6" cy="482.9" r="3.4"/>
<circle cx="479.0" cy="483.6" r="3.4"/>
<circle cx="483.3" cy="464.0" r="3.4"/>
<circle cx="483.6" cy="466.8" r="3.4"/>
<circle cx="483.1" cy="469.9" r="3.4"/>
<circle cx="483.2" cy="473.4" r="3.4"/>
<circle cx="483.8" cy="475.6" r="3.4"/>
<circle cx="483.0" cy="478.9" r="3.4"/>
<circle cx="483.0" cy="482.5" r="3.4"/>
<circle cx="483.4" cy="486.3" r="3.4"/>
<circle cx="483.8" cy="440.4" r="3.4"/>
<circle cx="484.4" cy="444.8" r="3.4"/>
<circle cx="485.3" cy="450.3" r="3.4"/>
<circle cx="484.6" cy="455.0" r="3.4"/>
<circle cx="484.9" cy="458.3" r="3.4"/>
<circle cx="485.2" cy="463.3" r="3.4"/>
<circle cx="490.0" cy="437.9" r="3.4"/>
<circle cx="489.1" cy="440.4" r="3.4"/>
<circle cx="488.5" cy="443.9" r="3.4"/>
<circle cx="488.4" cy="446.0" r="3.4"/>
<circle cx="488.7" cy="449.3" r="3.4"/>
<circle cx="489.0" cy="452.2" r="3.4"/>
<circle cx="488.3" cy="455.6" r="3.4"/>
<circle cx="488.5" cy="459.2" r="3.4"/>
<circle cx="488.4" cy="462.6" r="3.4"/>
<circle cx="489.5" cy="464.4" r="3.4"/>
<circle cx="488.8" cy="467.6" r="3.4"/>
<circle cx="489.0" cy="470.5" r="3.4"/>
<circle cx="490.0" cy="474.2" r="3.4"/>
<circle cx="489.2" cy="476.7" r="3.4"/>
<circle cx="488.5" cy="478.9" r="3.4"/>
<circle cx="489.0" cy="482.4" r="3.4"/>
<circle cx="490.0" cy="486.1" r="3.4"/>
<circle cx="488.6" cy="433.8" r="3.4"/>
<circle cx="490.1" cy="436.3" r="3.4"/>
<circle cx="502.4" cy="447.5" r="3.4"/>
<circle cx="502.4" cy="461.1" r="3.4"/>
<circle cx="502.2" cy="462.4" r="3.4"/>
<circle cx="502.5" cy="464.8" r="3.4"/>
<circle cx="502.3" cy="466.9" r="3.4"/>
<circle cx="502.4" cy="468.6" r="3.4"/>
<circle cx="502.4" cy="488.8" r="3.4"/>
<circle cx="522.5" cy="440.1" r="3.4"/>
<circle cx="532.2" cy="441.5" r="3.4"/>
<circle cx="538.3" cy="445.5" r="3.4"/>
<circle cx="540.4" cy="446.1" r="3.4"/>
<circle cx="527.1" cy="452.0" r="3.4"/>
<circle cx="530.3" cy="452.3" r="3.4"/>
<circle cx="521.7" cy="456.2" r="3.4"/>
<circle cx="524.9" cy="456.8" r="3.4"/>
<circle cx="532.9" cy="454.8" r="3.4"/>
<circle cx="540.9" cy="455.2" r="3.4"/>
<circle cx="540.9" cy="458.8" r="3.4"/>
<circle cx="518.5" cy="478.7" r="3.4"/>
<circle cx="518.5" cy="481.7" r="3.4"/>
<circle cx="521.7" cy="486.1" r="3.4"/>
<circle cx="524.9" cy="487.2" r="3.4"/>
<circle cx="528.1" cy="486.9" r="3.4"/>
<circle cx="531.3" cy="486.2" r="3.4"/>
<circle cx="537.7" cy="486.2" r="3.4"/>
<circle cx="536.1" cy="481.4" r="3.4"/>
<circle cx="540.9" cy="480.5" r="3.4"/>
<circle cx="550.0" cy="487.2" r="3.4"/>
<circle cx="564.4" cy="487.5" r="3.4"/>
<circle cx="564.4" cy="449.0" r="3.4"/>
<circle cx="564.4" cy="451.8" r="3.4"/>
<circle cx="564.6" cy="458.9" r="3.4"/>
<circle cx="564.3" cy="467.5" r="3.4"/>
<circle cx="564.5" cy="471.2" r="3.4"/>
<circle cx="564.4" cy="477.4" r="3.4"/>
<circle cx="564.4" cy="479.9" r="3.4"/>
<circle cx="572.4" cy="474.4" r="3.4"/>
<circle cx="572.4" cy="477.2" r="3.4"/>
<circle cx="572.9" cy="479.0" r="3.4"/>
<circle cx="577.2" cy="456.4" r="3.4"/>
<circle cx="578.3" cy="458.7" r="3.4"/>
<circle cx="577.6" cy="461.1" r="3.4"/>
<circle cx="531.5" cy="483.9" r="3.4"/>
<circle cx="522.9" cy="482.8" r="3.4"/>
<circle cx="525.2" cy="471.4" r="3.4"/>
<circle cx="532.9" cy="480.4" r="3.4"/>
<circle cx="522.1" cy="470.6" r="3.4"/>
<circle cx="526.7" cy="468.1" r="3.4"/>
<circle cx="522.5" cy="467.4" r="3.4"/>
<circle cx="529.4" cy="460.5" r="3.4"/>
<circle cx="527.2" cy="470.2" r="3.4"/>
<circle cx="520.2" cy="467.8" r="3.4"/>
<circle cx="528.1" cy="472.5" r="3.4"/>
<circle cx="520.8" cy="484.6" r="3.4"/>
<circle cx="530.2" cy="483.9" r="3.4"/>
<circle cx="521.4" cy="466.9" r="3.4"/>
<circle cx="520.5" cy="479.0" r="3.4"/>
<circle cx="523.5" cy="462.8" r="3.4"/>
<circle cx="525.5" cy="482.0" r="3.4"/>
<circle cx="530.6" cy="466.8" r="3.4"/>
<circle cx="521.9" cy="482.7" r="3.4"/>
<circle cx="527.4" cy="476.9" r="3.4"/>
<circle cx="521.2" cy="460.8" r="3.4"/>
<circle cx="528.9" cy="470.4" r="3.4"/>
<circle cx="520.9" cy="483.1" r="3.4"/>
<circle cx="528.2" cy="479.5" r="3.4"/>
<circle cx="521.1" cy="480.6" r="3.4"/>
<circle cx="520.9" cy="481.3" r="3.4"/>
<circle cx="525.9" cy="468.8" r="3.4"/>
<circle cx="527.2" cy="482.3" r="3.4"/>
<circle cx="523.5" cy="462.6" r="3.4"/>
<circle cx="526.8" cy="465.6" r="3.4"/>
<circle cx="552.9" cy="438.5" r="3.4"/>
<circle cx="552.8" cy="440.8" r="3.4"/>
<circle cx="553.3" cy="442.2" r="3.4"/>
<circle cx="554.2" cy="444.7" r="3.4"/>
<circle cx="553.7" cy="446.4" r="3.4"/>
<circle cx="553.4" cy="447.9" r="3.4"/>
<circle cx="553.2" cy="449.4" r="3.4"/>
<circle cx="554.2" cy="452.7" r="3.4"/>
<circle cx="553.1" cy="453.7" r="3.4"/>
<circle cx="554.6" cy="455.9" r="3.4"/>
<circle cx="554.3" cy="457.4" r="3.4"/>
<circle cx="553.7" cy="459.6" r="3.4"/>
<circle cx="553.5" cy="461.8" r="3.4"/>
<circle cx="554.1" cy="463.6" r="3.4"/>
<circle cx="553.4" cy="466.2" r="3.4"/>
<circle cx="554.1" cy="467.3" r="3.4"/>
<circle cx="553.5" cy="468.5" r="3.4"/>
<circle cx="552.8" cy="470.2" r="3.4"/>
<circle cx="552.8" cy="472.9" r="3.4"/>
<circle cx="553.2" cy="474.5" r="3.4"/>
<circle cx="552.9" cy="477.4" r="3.4"/>
<circle cx="554.4" cy="478.2" r="3.4"/>
<circle cx="549.4" cy="467.0" r="3.4"/>
<circle cx="549.5" cy="470.0" r="3.4"/>
<circle cx="547.9" cy="470.7" r="3.4"/>
<circle cx="549.2" cy="477.4" r="3.4"/>
<circle cx="557.7" cy="471.1" r="3.4"/>
<circle cx="548.9" cy="477.4" r="3.4"/>
<circle cx="549.7" cy="468.7" r="3.4"/>
<circle cx="546.0" cy="469.7" r="3.4"/>
<circle cx="551.7" cy="471.5" r="3.4"/>
<circle cx="548.4" cy="471.3" r="3.4"/>
<circle cx="557.1" cy="467.1" r="3.4"/>
<circle cx="558.2" cy="469.6" r="3.4"/>
<circle cx="557.5" cy="461.7" r="3.4"/>
<circle cx="561.0" cy="465.5" r="3.4"/>
<circle cx="564.6" cy="472.0" r="3.4"/>
<circle cx="566.8" cy="474.2" r="3.4"/>
<circle cx="566.3" cy="477.6" r="3.4"/>
<circle cx="562.1" cy="467.8" r="3.4"/>
<circle cx="569.8" cy="464.1" r="3.4"/>
<circle cx="543.2" cy="472.2" r="3.4"/>
<circle cx="536.4" cy="476.0" r="3.4"/>
<circle cx="544.9" cy="471.6" r="3.4"/>
<circle cx="543.3" cy="475.1" r="3.4"/>
<circle cx="537.4" cy="469.7" r="3.4"/>
<circle cx="541.0" cy="476.0" r="3.4"/>
<circle cx="544.0" cy="476.5" r="3.4"/>
<circle cx="576.5" cy="457.1" r="3.4"/>
<circle cx="581.5" cy="452.1" r="3.4"/>
<circle cx="581.5" cy="458.2" r="3.4"/>
<circle cx="581.5" cy="466.2" r="3.4"/>
<circle cx="581.5" cy="482.2" r="3.4"/>
<circle cx="588.1" cy="449.1" r="3.4"/>
<circle cx="588.1" cy="452.1" r="3.4"/>
<circle cx="588.1" cy="455.1" r="3.4"/>
<circle cx="588.1" cy="467.2" r="3.4"/>
<circle cx="588.1" cy="470.2" r="3.4"/>
<circle cx="588.1" cy="473.2" r="3.4"/>
<circle cx="588.1" cy="480.2" r="3.4"/>
<circle cx="596.6" cy="451.1" r="3.4"/>
<circle cx="596.6" cy="458.2" r="3.4"/>
<circle cx="596.6" cy="464.2" r="3.4"/>
<circle cx="596.6" cy="470.2" r="3.4"/>
<circle cx="596.6" cy="474.2" r="3.4"/>
<circle cx="601.6" cy="444.6" r="3.4"/>
<circle cx="601.6" cy="449.1" r="3.4"/>
<circle cx="601.6" cy="452.1" r="3.4"/>
<circle cx="601.6" cy="456.1" r="3.4"/>
<circle cx="601.6" cy="460.2" r="3.4"/>
<circle cx="601.6" cy="464.2" r="3.4"/>
<circle cx="601.6" cy="467.2" r="3.4"/>
<circle cx="601.6" cy="474.2" r="3.4"/>
<circle cx="601.6" cy="485.3" r="3.4"/>
<circle cx="607.6" cy="460.2" r="3.4"/>
<circle cx="607.6" cy="470.2" r="3.4"/>
<circle cx="607.6" cy="479.2" r="3.4"/>
<circle cx="607.6" cy="482.2" r="3.4"/>
<circle cx="615.2" cy="442.1" r="3.4"/>
<circle cx="615.2" cy="455.1" r="3.4"/>
<circle cx="615.2" cy="460.2" r="3.4"/>
<circle cx="615.2" cy="464.2" r="3.4"/>
<circle cx="615.2" cy="469.2" r="3.4"/>
<circle cx="615.2" cy="476.2" r="3.4"/>
<circle cx="615.2" cy="482.2" r="3.4"/>
<circle cx="622.7" cy="430.5" r="3.4"/>
<circle cx="622.7" cy="435.6" r="3.4"/>
<circle cx="622.7" cy="445.1" r="3.4"/>
<circle cx="622.7" cy="453.1" r="3.4"/>
<circle cx="622.7" cy="457.1" r="3.4"/>
<circle cx="622.7" cy="464.2" r="3.4"/>
<circle cx="622.7" cy="466.2" r="3.4"/>
<circle cx="628.7" cy="455.1" r="3.4"/>
<circle cx="628.7" cy="459.2" r="3.4"/>
<circle cx="636.6" cy="450.1" r="3.4"/>
<circle cx="636.6" cy="460.2" r="3.4"/>
<circle cx="636.6" cy="466.2" r="3.4"/>
<circle cx="636.6" cy="471.2" r="3.4"/>
<circle cx="636.6" cy="477.7" r="3.4"/>
<circle cx="646.6" cy="430.5" r="3.4"/>
<circle cx="646.6" cy="440.1" r="3.4"/>
<circle cx="649.1" cy="452.1" r="3.4"/>
<circle cx="649.1" cy="462.2" r="3.4"/>
<circle cx="657.7" cy="448.6" r="3.4"/>
<circle cx="657.7" cy="461.2" r="3.4"/>
<circle cx="655.6" cy="455.1" r="3.4"/>
<circle cx="655.6" cy="468.7" r="3.4"/>
<circle cx="659.4" cy="468.7" r="3.4"/>
<circle cx="666.0" cy="434.1" r="3.4"/>
<circle cx="115.5" cy="467.3" r="3.4"/>
</g>
<g>
<circle cx="480.5" cy="557.5" r="5.5" fill="#a8a000"/>
<circle cx="532.0" cy="564.6" r="5.5" fill="#a8a000"/>
<circle cx="540.3" cy="564.6" r="5.5" fill="#a8a000"/>
<circle cx="553.1" cy="577.4" r="5.5" fill="#a8a000"/>
<circle cx="558.1" cy="577.4" r="5.5" fill="#a8a000"/>
<circle cx="480.1" cy="601.9" r="5.5" fill="#a8a000"/>
<circle cx="481.9" cy="601.9" r="5.5" fill="#a8a000"/>
<circle cx="502.3" cy="610.1" r="5.5" fill="#a8a000"/>
<circle cx="564.7" cy="611.3" r="5.5" fill="#a8a000"/>
<circle cx="519.5" cy="621.6" r="5.5" fill="#a8a000"/>
<circle cx="546.5" cy="621.6" r="5.5" fill="#a8a000"/>
<circle cx="480.1" cy="636.6" r="5.5" fill="#a8a000"/>
<circle cx="489.1" cy="636.6" r="5.5" fill="#a8a000"/>
<circle cx="480.1" cy="642.6" r="5.5" fill="#a8a000"/>
<circle cx="479.3" cy="648.6" r="5.5" fill="#a8a000"/>
<circle cx="483.8" cy="648.6" r="5.5" fill="#a8a000"/>
<circle cx="489.1" cy="648.6" r="5.5" fill="#a8a000"/>
<circle cx="501.9" cy="648.9" r="5.5" fill="#a8a000"/>
<circle cx="482.3" cy="655.4" r="5.5" fill="#a8a000"/>
<circle cx="480.0" cy="652.5" r="5.5" fill="#a8a000"/>
<circle cx="478.6" cy="673.0" r="5.5" fill="#a8a000"/>
<circle cx="501.9" cy="678.7" r="5.5" fill="#a8a000"/>
<circle cx="561.4" cy="648.6" r="5.5" fill="#a8a000"/>
<circle cx="550.1" cy="652.8" r="5.5" fill="#a8a000"/>
<circle cx="550.1" cy="663.7" r="5.5" fill="#a8a000"/>
<circle cx="556.1" cy="661.4" r="5.5" fill="#a8a000"/>
<circle cx="524.5" cy="672.7" r="5.5" fill="#a8a000"/>
<circle cx="529.8" cy="670.5" r="5.5" fill="#a8a000"/>
<circle cx="528.3" cy="677.2" r="5.5" fill="#a8a000"/>
<circle cx="537.3" cy="674.2" r="5.5" fill="#a8a000"/>
<circle cx="540.3" cy="678.0" r="5.5" fill="#a8a000"/>
<circle cx="548.6" cy="675.0" r="5.5" fill="#a8a000"/>
<circle cx="549.3" cy="678.7" r="5.5" fill="#a8a000"/>
<circle cx="564.4" cy="678.7" r="5.5" fill="#a8a000"/>
<circle cx="569.7" cy="674.2" r="5.5" fill="#a8a000"/>
<circle cx="572.7" cy="676.5" r="5.5" fill="#a8a000"/>
<circle cx="577.2" cy="675.4" r="5.5" fill="#a8a000"/>
<circle cx="526.7" cy="689.6" r="5.5" fill="#a8a000"/>
<circle cx="536.5" cy="690.0" r="5.5" fill="#a8a000"/>
<circle cx="522.2" cy="696.0" r="5.5" fill="#a8a000"/>
<circle cx="548.6" cy="690.0" r="5.5" fill="#a8a000"/>
<circle cx="549.3" cy="695.3" r="5.5" fill="#a8a000"/>
<circle cx="115.5" cy="577.6" r="5.5" fill="#a8a000"/>
<circle cx="480.5" cy="557.5" r="4.1" fill="#00ffff"/>
<circle cx="532.0" cy="564.6" r="4.1" fill="#00ffff"/>
<circle cx="540.3" cy="564.6" r="4.1" fill="#00ffff"/>
<circle cx="553.1" cy="577.4" r="4.1" fill="#00ffff"/>
<circle cx="558.1" cy="577.4" r="4.1" fill="#00ffff"/>
<circle cx="480.1" cy="601.9" r="4.1" fill="#00ffff"/>
<circle cx="481.9" cy="601.9" r="4.1" fill="#00ffff"/>
<circle cx="502.3" cy="610.1" r="4.1" fill="#00ffff"/>
<circle cx="564.7" cy="611.3" r="4.1" fill="#00ffff"/>
<circle cx="519.5" cy="621.6" r="4.1" fill="#00ffff"/>
<circle cx="546.5" cy="621.6" r="4.1" fill="#00ffff"/>
<circle cx="480.1" cy="636.6" r="4.1" fill="#00ffff"/>
<circle cx="489.1" cy="636.6" r="4.1" fill="#00ffff"/>
<circle cx="480.1" cy="642.6" r="4.1" fill="#00ffff"/>
<circle cx="479.3" cy="648.6" r="4.1" fill="#00ffff"/>
<circle cx="483.8" cy="648.6" r="4.1" fill="#00ffff"/>
<circle cx="489.1" cy="648.6" r="4.1" fill="#00ffff"/>
<circle cx="501.9" cy="648.9" r="4.1" fill="#00ffff"/>
<circle cx="482.3" cy="655.4" r="4.1" fill="#00ffff"/>
<circle cx="480.0" cy="652.5" r="4.1" fill="#00ffff"/>
<circle cx="478.6" cy="673.0" r="4.1" fill="#00ffff"/>
<circle cx="501.9" cy="678.7" r="4.1" fill="#00ffff"/>
<circle cx="561.4" cy="648.6" r="4.1" fill="#00ffff"/>
<circle cx="550.1" cy="652.8" r="4.1" fill="#00ffff"/>
<circle cx="550.1" cy="663.7" r="4.1" fill="#00ffff"/>
<circle cx="556.1" cy="661.4" r="4.1" fill="#00ffff"/>
<circle cx="524.5" cy="672.7" r="4.1" fill="#00ffff"/>
<circle cx="529.8" cy="670.5" r="4.1" fill="#00ffff"/>
<circle cx="528.3" cy="677.2" r="4.1" fill="#00ffff"/>
<circle cx="537.3" cy="674.2" r="4.1" fill="#00ffff"/>
<circle cx="540.3" cy="678.0" r="4.1" fill="#00ffff"/>
<circle cx="548.6" cy="675.0" r="4.1" fill="#00ffff"/>
<circle cx="549.3" cy="678.7" r="4.1" fill="#00ffff"/>
<circle cx="564.4" cy="678.7" r="4.1" fill="#00ffff"/>
<circle cx="569.7" cy="674.2" r="4.1" fill="#00ffff"/>
<circle cx="572.7" cy="676.5" r="4.1" fill="#00ffff"/>
<circle cx="577.2" cy="675.4" r="4.1" fill="#00ffff"/>
<circle cx="526.7" cy="689.6" r="4.1" fill="#00ffff"/>
<circle cx="536.5" cy="690.0" r="4.1" fill="#00ffff"/>
<circle cx="522.2" cy="696.0" r="4.1" fill="#00ffff"/>
<circle cx="548.6" cy="690.0" r="4.1" fill="#00ffff"/>
<circle cx="549.3" cy="695.3" r="4.1" fill="#00ffff"/>
<circle cx="588.8" cy="612.0" r="4.1" fill="#00ffff"/>
<circle cx="606.9" cy="621.4" r="4.1" fill="#00ffff"/>
<circle cx="649.4" cy="621.4" r="4.1" fill="#00ffff"/>
<circle cx="656.1" cy="621.4" r="4.1" fill="#00ffff"/>
<circle cx="588.8" cy="648.9" r="4.1" fill="#00ffff"/>
<circle cx="607.7" cy="648.9" r="4.1" fill="#00ffff"/>
<circle cx="635.8" cy="648.5" r="4.1" fill="#00ffff"/>
<circle cx="637.0" cy="652.7" r="4.1" fill="#00ffff"/>
<circle cx="598.3" cy="659.9" r="4.1" fill="#00ffff"/>
<circle cx="586.9" cy="677.9" r="4.1" fill="#00ffff"/>
<circle cx="601.9" cy="676.5" r="4.1" fill="#00ffff"/>
<circle cx="613.7" cy="677.9" r="4.1" fill="#00ffff"/>
<circle cx="616.7" cy="677.9" r="4.1" fill="#00ffff"/>
<circle cx="622.0" cy="677.9" r="4.1" fill="#00ffff"/>
<circle cx="623.0" cy="673.5" r="4.1" fill="#00ffff"/>
<circle cx="635.5" cy="677.9" r="4.1" fill="#00ffff"/>
<circle cx="646.8" cy="677.9" r="4.1" fill="#00ffff"/>
<circle cx="657.7" cy="677.9" r="4.1" fill="#00ffff"/>
<circle cx="665.9" cy="677.9" r="4.1" fill="#00ffff"/>
<circle cx="581.7" cy="690.1" r="4.1" fill="#00ffff"/>
<circle cx="581.7" cy="700.9" r="4.1" fill="#00ffff"/>
<circle cx="602.8" cy="700.9" r="4.1" fill="#00ffff"/>
<circle cx="610.7" cy="693.8" r="4.1" fill="#00ffff"/>
<circle cx="614.4" cy="693.8" r="4.1" fill="#00ffff"/>
<circle cx="622.7" cy="690.4" r="4.1" fill="#00ffff"/>
<circle cx="629.0" cy="690.4" r="4.1" fill="#00ffff"/>
<circle cx="115.5" cy="577.6" r="4.1" fill="#00ffff"/>
</g>
<line x1="86.55" y1="177.05" x2="755.50" y2="177.05" stroke="#000" stroke-width="1.9" stroke-dasharray="2.9 3.081" stroke-dashoffset="4.75"/>
<line x1="86.55" y1="293.85" x2="755.50" y2="293.85" stroke="#000" stroke-width="1.9" stroke-dasharray="2.9 3.081" stroke-dashoffset="4.75"/>
<line x1="86.55" y1="461.30" x2="755.50" y2="461.30" stroke="#000" stroke-width="1.9" stroke-dasharray="2.9 3.081" stroke-dashoffset="4.75"/>
<line x1="86.55" y1="649.00" x2="755.50" y2="649.00" stroke="#000" stroke-width="1.9" stroke-dasharray="2.9 3.081" stroke-dashoffset="4.75"/>
<line x1="719.20" y1="43.30" x2="719.20" y2="712.15" stroke="#000" stroke-width="1.9" stroke-dasharray="2.5 3.481" stroke-dashoffset="3.28"/>
<g stroke="#000" stroke-width="2.7" stroke-linecap="butt" fill="none">
<rect x="86.55" y="43.3" width="668.95" height="668.85" stroke-linejoin="round"/>
<line x1="86.55" y1="210.4" x2="755.5" y2="210.4"/>
<line x1="86.55" y1="377.4" x2="755.5" y2="377.4"/>
<line x1="86.55" y1="544.4" x2="755.5" y2="544.4"/>
<path d="M98.50 43.30V49.80M98.50 203.90V216.90M98.50 370.90V383.90M98.50 537.90V550.90M98.50 705.65V712.15M127.82 43.30V49.80M127.82 203.90V216.90M127.82 370.90V383.90M127.82 537.90V550.90M127.82 705.65V712.15M157.14 43.30V55.80M157.14 197.90V222.90M157.14 364.90V389.90M157.14 531.90V556.90M157.14 699.65V712.15M186.46 43.30V49.80M186.46 203.90V216.90M186.46 370.90V383.90M186.46 537.90V550.90M186.46 705.65V712.15M215.78 43.30V49.80M215.78 203.90V216.90M215.78 370.90V383.90M215.78 537.90V550.90M215.78 705.65V712.15M245.10 43.30V49.80M245.10 203.90V216.90M245.10 370.90V383.90M245.10 537.90V550.90M245.10 705.65V712.15M274.42 43.30V55.80M274.42 197.90V222.90M274.42 364.90V389.90M274.42 531.90V556.90M274.42 699.65V712.15M303.74 43.30V49.80M303.74 203.90V216.90M303.74 370.90V383.90M303.74 537.90V550.90M303.74 705.65V712.15M333.06 43.30V49.80M333.06 203.90V216.90M333.06 370.90V383.90M333.06 537.90V550.90M333.06 705.65V712.15M362.38 43.30V49.80M362.38 203.90V216.90M362.38 370.90V383.90M362.38 537.90V550.90M362.38 705.65V712.15M391.70 43.30V55.80M391.70 197.90V222.90M391.70 364.90V389.90M391.70 531.90V556.90M391.70 699.65V712.15M421.02 43.30V49.80M421.02 203.90V216.90M421.02 370.90V383.90M421.02 537.90V550.90M421.02 705.65V712.15M450.34 43.30V49.80M450.34 203.90V216.90M450.34 370.90V383.90M450.34 537.90V550.90M450.34 705.65V712.15M479.66 43.30V49.80M479.66 203.90V216.90M479.66 370.90V383.90M479.66 537.90V550.90M479.66 705.65V712.15M508.98 43.30V55.80M508.98 197.90V222.90M508.98 364.90V389.90M508.98 531.90V556.90M508.98 699.65V712.15M538.30 43.30V49.80M538.30 203.90V216.90M538.30 370.90V383.90M538.30 537.90V550.90M538.30 705.65V712.15M567.62 43.30V49.80M567.62 203.90V216.90M567.62 370.90V383.90M567.62 537.90V550.90M567.62 705.65V712.15M596.94 43.30V49.80M596.94 203.90V216.90M596.94 370.90V383.90M596.94 537.90V550.90M596.94 705.65V712.15M626.26 43.30V55.80M626.26 197.90V222.90M626.26 364.90V389.90M626.26 531.90V556.90M626.26 699.65V712.15M655.58 43.30V49.80M655.58 203.90V216.90M655.58 370.90V383.90M655.58 537.90V550.90M655.58 705.65V712.15M684.90 43.30V49.80M684.90 203.90V216.90M684.90 370.90V383.90M684.90 537.90V550.90M684.90 705.65V712.15M714.22 43.30V49.80M714.22 203.90V216.90M714.22 370.90V383.90M714.22 537.90V550.90M714.22 705.65V712.15M743.54 43.30V55.80M743.54 197.90V222.90M743.54 364.90V389.90M743.54 531.90V556.90M743.54 699.65V712.15M86.55 206.55h6.5M755.50 206.55h-6.5M86.55 198.60h13.1M755.50 198.60h-13.1M86.55 190.65h6.5M755.50 190.65h-6.5M86.55 182.70h6.5M755.50 182.70h-6.5M86.55 174.75h6.5M755.50 174.75h-6.5M86.55 166.80h6.5M755.50 166.80h-6.5M86.55 158.85h13.1M755.50 158.85h-13.1M86.55 150.90h6.5M755.50 150.90h-6.5M86.55 142.95h6.5M755.50 142.95h-6.5M86.55 135.00h6.5M755.50 135.00h-6.5M86.55 127.05h6.5M755.50 127.05h-6.5M86.55 119.10h13.1M755.50 119.10h-13.1M86.55 111.15h6.5M755.50 111.15h-6.5M86.55 103.20h6.5M755.50 103.20h-6.5M86.55 95.25h6.5M755.50 95.25h-6.5M86.55 87.30h6.5M755.50 87.30h-6.5M86.55 79.35h13.1M755.50 79.35h-13.1M86.55 71.40h6.5M755.50 71.40h-6.5M86.55 63.45h6.5M755.50 63.45h-6.5M86.55 55.50h6.5M755.50 55.50h-6.5M86.55 47.55h6.5M755.50 47.55h-6.5M86.55 367.45h6.5M755.50 367.45h-6.5M86.55 356.95h6.5M755.50 356.95h-6.5M86.55 346.45h6.5M755.50 346.45h-6.5M86.55 335.95h13.1M755.50 335.95h-13.1M86.55 325.45h6.5M755.50 325.45h-6.5M86.55 314.95h6.5M755.50 314.95h-6.5M86.55 304.45h6.5M755.50 304.45h-6.5M86.55 293.95h13.1M755.50 293.95h-13.1M86.55 283.45h6.5M755.50 283.45h-6.5M86.55 272.95h6.5M755.50 272.95h-6.5M86.55 262.45h6.5M755.50 262.45h-6.5M86.55 251.95h13.1M755.50 251.95h-13.1M86.55 241.45h6.5M755.50 241.45h-6.5M86.55 230.95h6.5M755.50 230.95h-6.5M86.55 220.45h6.5M755.50 220.45h-6.5M86.55 534.85h6.5M755.50 534.85h-6.5M86.55 524.35h6.5M755.50 524.35h-6.5M86.55 513.85h6.5M755.50 513.85h-6.5M86.55 503.35h13.1M755.50 503.35h-13.1M86.55 492.85h6.5M755.50 492.85h-6.5M86.55 482.35h6.5M755.50 482.35h-6.5M86.55 471.85h6.5M755.50 471.85h-6.5M86.55 461.35h13.1M755.50 461.35h-13.1M86.55 450.85h6.5M755.50 450.85h-6.5M86.55 440.35h6.5M755.50 440.35h-6.5M86.55 429.85h6.5M755.50 429.85h-6.5M86.55 419.35h13.1M755.50 419.35h-13.1M86.55 408.85h6.5M755.50 408.85h-6.5M86.55 398.35h6.5M755.50 398.35h-6.5M86.55 387.85h6.5M755.50 387.85h-6.5M86.55 708.61h6.5M755.50 708.61h-6.5M86.55 702.02h6.5M755.50 702.02h-6.5M86.55 695.43h6.5M755.50 695.43h-6.5M86.55 688.84h6.5M755.50 688.84h-6.5M86.55 682.25h13.1M755.50 682.25h-13.1M86.55 675.66h6.5M755.50 675.66h-6.5M86.55 669.07h6.5M755.50 669.07h-6.5M86.55 662.48h6.5M755.50 662.48h-6.5M86.55 655.89h6.5M755.50 655.89h-6.5M86.55 649.30h13.1M755.50 649.30h-13.1M86.55 642.71h6.5M755.50 642.71h-6.5M86.55 636.12h6.5M755.50 636.12h-6.5M86.55 629.53h6.5M755.50 629.53h-6.5M86.55 622.94h6.5M755.50 622.94h-6.5M86.55 616.35h13.1M755.50 616.35h-13.1M86.55 609.76h6.5M755.50 609.76h-6.5M86.55 603.17h6.5M755.50 603.17h-6.5M86.55 596.58h6.5M755.50 596.58h-6.5M86.55 589.99h6.5M755.50 589.99h-6.5M86.55 583.40h13.1M755.50 583.40h-13.1M86.55 576.81h6.5M755.50 576.81h-6.5M86.55 570.22h6.5M755.50 570.22h-6.5M86.55 563.63h6.5M755.50 563.63h-6.5M86.55 557.04h6.5M755.50 557.04h-6.5M86.55 550.45h13.1M755.50 550.45h-13.1"/>
</g>
<text class="tk" x="157.5" y="33.7" text-anchor="middle" textLength="64.3" lengthAdjust="spacingAndGlyphs">2017.2</text>
<text class="tk" x="157.5" y="735.0" text-anchor="middle" textLength="64.3" lengthAdjust="spacingAndGlyphs">2017.2</text>
<text class="tk" x="274.8" y="33.7" text-anchor="middle" textLength="64.3" lengthAdjust="spacingAndGlyphs">2017.4</text>
<text class="tk" x="274.8" y="735.0" text-anchor="middle" textLength="64.3" lengthAdjust="spacingAndGlyphs">2017.4</text>
<text class="tk" x="392.1" y="33.7" text-anchor="middle" textLength="64.3" lengthAdjust="spacingAndGlyphs">2017.6</text>
<text class="tk" x="392.1" y="735.0" text-anchor="middle" textLength="64.3" lengthAdjust="spacingAndGlyphs">2017.6</text>
<text class="tk" x="509.4" y="33.7" text-anchor="middle" textLength="64.3" lengthAdjust="spacingAndGlyphs">2017.8</text>
<text class="tk" x="509.4" y="735.0" text-anchor="middle" textLength="64.3" lengthAdjust="spacingAndGlyphs">2017.8</text>
<text class="tk" x="626.7" y="33.7" text-anchor="middle" textLength="46.5" lengthAdjust="spacingAndGlyphs">2018</text>
<text class="tk" x="626.7" y="735.0" text-anchor="middle" textLength="46.5" lengthAdjust="spacingAndGlyphs">2018</text>
<text class="tk" x="743.9" y="33.7" text-anchor="middle" textLength="64.3" lengthAdjust="spacingAndGlyphs">2018.2</text>
<text class="tk" x="743.9" y="735.0" text-anchor="middle" textLength="64.3" lengthAdjust="spacingAndGlyphs">2018.2</text>
<text class="tk" x="74.9" y="206.1" text-anchor="end">1</text>
<text class="tk" x="74.9" y="166.3" text-anchor="end">2</text>
<text class="tk" x="74.9" y="126.6" text-anchor="end">3</text>
<text class="tk" x="74.9" y="86.8" text-anchor="end">4</text>
<text class="tk" x="74.9" y="259.4" text-anchor="end">2</text>
<text class="tk" x="74.9" y="301.4" text-anchor="end">0</text>
<text class="tk" x="74.9" y="343.4" text-anchor="end" textLength="24.6" lengthAdjust="spacingAndGlyphs">−2</text>
<text class="tk" x="74.9" y="426.9" text-anchor="end">2</text>
<text class="tk" x="74.9" y="468.9" text-anchor="end">0</text>
<text class="tk" x="74.9" y="510.9" text-anchor="end" textLength="24.6" lengthAdjust="spacingAndGlyphs">−2</text>
<text class="tk" x="74.9" y="689.8" text-anchor="end" textLength="28.3" lengthAdjust="spacingAndGlyphs">0.5</text>
<text class="tk" x="74.9" y="656.8" text-anchor="end">1</text>
<text class="tk" x="74.9" y="623.8" text-anchor="end" textLength="28.3" lengthAdjust="spacingAndGlyphs">1.5</text>
<text class="tk" x="74.9" y="590.9" text-anchor="end">2</text>
<text class="tk" x="74.9" y="557.9" text-anchor="end" textLength="28.3" lengthAdjust="spacingAndGlyphs">2.5</text>
<text class="ax" transform="translate(50.6 194.1) rotate(-90)"><tspan x="0.0" textLength="84.1" lengthAdjust="spacingAndGlyphs">distance</tspan> <tspan x="94.5" textLength="39.5" lengthAdjust="spacingAndGlyphs">[au]</tspan></text>
<text class="ax" transform="translate(35.2 359.9) rotate(-90)"><tspan x="0.0" textLength="40.4" lengthAdjust="spacingAndGlyphs">O−C</tspan> <tspan x="49.6" textLength="81.1" lengthAdjust="spacingAndGlyphs">[arcsec]</tspan></text>
<text class="ax" transform="translate(35.2 527.0999999999999) rotate(-90)"><tspan x="0.0" textLength="40.4" lengthAdjust="spacingAndGlyphs">O−C</tspan> <tspan x="49.6" textLength="81.1" lengthAdjust="spacingAndGlyphs">[arcsec]</tspan></text>
<text class="ax" transform="translate(33.2 665.3) rotate(-90)"><tspan x="0.0" textLength="74.3" lengthAdjust="spacingAndGlyphs">weights</tspan></text>
<text class="ax" y="761.3"><tspan x="362">D</tspan> <tspan x="384.2">a</tspan> <tspan x="406">t</tspan> <tspan x="423.3">e</tspan> <tspan x="444.5" textLength="35.9" lengthAdjust="spacingAndGlyphs">[yr]</tspan></text>
<text class="rm" y="85.3"><tspan x="224.4" textLength="71.6" lengthAdjust="spacingAndGlyphs">C/2017</tspan> <tspan x="306.2" textLength="22.3" lengthAdjust="spacingAndGlyphs">S6</tspan> <tspan x="339.2" textLength="80.7" lengthAdjust="spacingAndGlyphs">Catalina</tspan></text>
<text class="rm" y="127.7"><tspan x="169.7" textLength="51.6" lengthAdjust="spacingAndGlyphs">0.790</tspan> <tspan x="231.4" textLength="21.0" lengthAdjust="spacingAndGlyphs">yr</tspan></text>
<text class="rm" y="149.2"><tspan x="171.1" textLength="33.2" lengthAdjust="spacingAndGlyphs">188</tspan> <tspan x="213.9" textLength="38.5" lengthAdjust="spacingAndGlyphs">obs.</tspan></text>
<text class="rm" y="169.3"><tspan x="171.1" textLength="21.5" lengthAdjust="spacingAndGlyphs">1b</tspan></text>
<text class="rm" y="92.0"><tspan x="533.2" textLength="51.3" lengthAdjust="spacingAndGlyphs">0.934</tspan> <tspan x="595.1" textLength="20.4" lengthAdjust="spacingAndGlyphs">yr</tspan></text>
<text class="rm" y="114.0"><tspan x="533.2" textLength="33.4" lengthAdjust="spacingAndGlyphs">272</tspan> <tspan x="578.0" textLength="38.0" lengthAdjust="spacingAndGlyphs">obs.</tspan></text>
<text class="rm" y="133.6"><tspan x="535.1" textLength="20.9" lengthAdjust="spacingAndGlyphs">1b</tspan></text>
<text class="rm" y="368.1"><tspan x="290.0" textLength="71.6" lengthAdjust="spacingAndGlyphs">C/2017</tspan> <tspan x="372.3" textLength="22.4" lengthAdjust="spacingAndGlyphs">S6</tspan> <tspan x="405.5" textLength="37.6" lengthAdjust="spacingAndGlyphs">(GR,</tspan> <tspan x="454.9" textLength="42.7" lengthAdjust="spacingAndGlyphs">PRE,</tspan> <tspan x="508.2" textLength="29.6" lengthAdjust="spacingAndGlyphs">p2;</tspan> <tspan x="549.1" textLength="94.1" lengthAdjust="spacingAndGlyphs">weighted)</tspan></text>
<text class="rm" y="535.8"><tspan x="344.4" textLength="71.9" lengthAdjust="spacingAndGlyphs">C/2017</tspan> <tspan x="426.3" textLength="22.1" lengthAdjust="spacingAndGlyphs">S6</tspan> <tspan x="459.5" textLength="39.1" lengthAdjust="spacingAndGlyphs">(GR,</tspan> <tspan x="509.1" textLength="29.7" lengthAdjust="spacingAndGlyphs">a5;</tspan> <tspan x="548.2" textLength="95.4" lengthAdjust="spacingAndGlyphs">weighted)</tspan></text>
<text class="rm" y="590.6" style="fill:#00ffff;stroke:#00ffff;font-size:20.2px"><tspan x="327.9" textLength="27.1" lengthAdjust="spacingAndGlyphs">GR</tspan> <tspan x="367.0" textLength="24.1" lengthAdjust="spacingAndGlyphs">a5</tspan></text>
<text class="rm" y="621.1" style="fill:#a0a000;stroke:#a0a000;font-size:20.2px"><tspan x="327.1" textLength="27.9" lengthAdjust="spacingAndGlyphs">GR</tspan> <tspan x="366.3" textLength="24.8" lengthAdjust="spacingAndGlyphs">p2</tspan></text>
</svg></body></html>
